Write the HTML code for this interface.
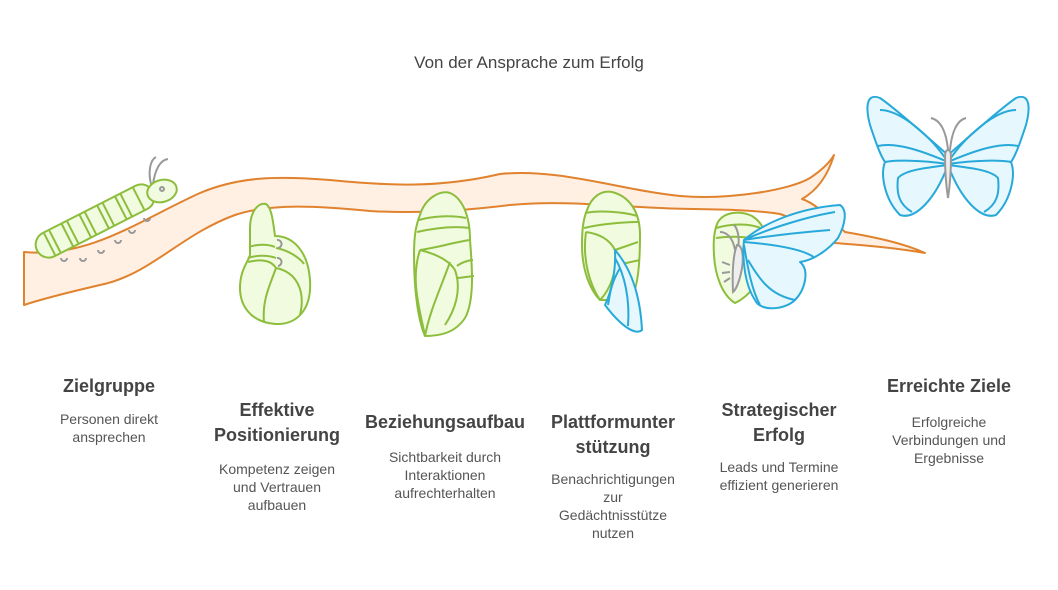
<!DOCTYPE html>
<html><head><meta charset="utf-8"><style>
html,body{margin:0;padding:0;background:#fff;}
svg{display:block;}
.t{font-family:"Liberation Sans",sans-serif;font-weight:bold;font-size:18px;fill:#444;text-anchor:middle;}
.b{font-family:"Liberation Sans",sans-serif;font-size:14px;fill:#555;text-anchor:middle;}
.g{fill:#f1fbdf;stroke:#8dbd3c;stroke-width:2;stroke-linejoin:round;}
.gl{fill:none;stroke:#8dbd3c;stroke-width:2;}
.bl{fill:#e6f7fd;stroke:#27a9d9;stroke-width:2;stroke-linejoin:round;}
.bll{fill:none;stroke:#27a9d9;stroke-width:2;}
.gr{fill:none;stroke:#999;stroke-width:2;}
</style></head><body>
<svg width="1058" height="590" viewBox="0 0 1058 590">
<text x="529" y="68" style="font-family:'Liberation Sans',sans-serif;font-size:17px;fill:#444;text-anchor:middle;">Von der Ansprache zum Erfolg</text>

<!-- branch -->
<path d="M24,252 C90,258 140,220 200,193 C240,176 280,176 330,180 C390,186 440,188 500,174 C560,168 620,190 680,196 C730,200 790,190 810,178 C822,170 830,162 834,155 C828,175 818,190 802,199 C815,203 830,218 845,232 C880,238 905,244 925,253 C890,247 860,245 835,243 C815,238 800,220 780,214 C740,208 700,210 660,208 C610,206 560,200 510,205 C470,210 420,214 370,211 C320,206 270,203 235,215 C180,235 150,275 100,285 C70,292 45,298 24,305 Z" fill="#fff0e3" stroke="#e0822e" stroke-width="2" stroke-linejoin="round"/>

<!-- caterpillar -->
<g>
<path class="gr" d="M151,184 C148,172 150,160 156,157 M153,184 C155,170 160,160 168,159"/>
<path class="gr" d="M61,258 a3,3 0 1 0 6,0 M80,258 a3,3 0 1 0 6,0 M98,250 a3,3 0 1 0 6,0 M115,240 a3,3 0 1 0 6,0 M129,230 a3,3 0 1 0 6,0 M144,218 a3,3 0 1 0 6,0"/>
<g transform="rotate(-27 95 221)">
<rect x="30" y="208" width="130" height="26" rx="13" class="g"/>
<path class="gl" d="M44,209 V233 M50,209 V233 M64,208 V234 M70,208 V234 M84,208 V234 M90,208 V234 M104,208 V234 M110,208 V234 M124,208 V234 M130,208 V234 M144,208 V234"/>
</g>
<ellipse cx="162" cy="191" rx="15" ry="11" transform="rotate(-15 162 191)" class="g"/>
<circle cx="162" cy="189" r="2" class="gr"/>
</g>

<!-- pupa 1 -->
<g>
<path class="g" d="M250,228 C250,212 258,202 266,204 C272,208 273,222 275,236 C292,236 308,250 310,280 C312,312 295,325 275,324 C250,322 240,305 240,288 C240,270 248,262 250,255 Z"/>
<path class="gl" d="M249,247 C257,244 268,244 275,247 M248,258 C257,255 268,255 276,258 M248,262 C265,258 272,262 276,268 M276,268 C270,285 262,300 264,322 M276,268 C296,272 306,290 300,315 M276,248 C288,250 300,258 304,264"/>
<path class="gr" d="M277,240 a3,3 0 1 1 1,8 M277,258 a3,3 0 1 1 1,8"/>
</g>

<!-- pupa 2 -->
<g>
<path class="g" d="M420,215 C425,198 440,190 450,193 C462,198 470,215 470,240 C472,265 475,300 465,318 C455,333 440,336 425,336 C418,320 414,290 414,255 C414,235 416,225 420,215 Z"/>
<path class="gl" d="M419,220 C432,216 452,215 466,218 M417,232 C435,228 455,226 470,228 M420,250 C440,247 455,242 470,240 M457,266 C462,262 470,260 473,260 M458,278 L474,276 M420,250 C440,255 450,262 455,270 C462,290 455,310 445,325 M420,250 C410,280 420,310 425,336 M450,262 C440,290 430,310 425,336"/>
</g>

<!-- pupa 3 -->
<g>
<path class="g" d="M587,210 C592,196 602,190 612,192 C628,196 640,210 640,235 C640,262 638,290 630,300 L600,300 C590,290 582,270 582,245 C582,230 583,220 587,210 Z"/>
<path class="gl" d="M585,213 C600,210 625,212 637,216 M584,228 C600,224 625,222 639,222 M586,232 C600,234 610,240 615,250 M615,250 L638,242 M617,265 L640,260 M615,250 C618,270 610,290 600,300 M586,232 C582,260 590,285 600,300"/>
<path class="bl" d="M615,250 C628,265 640,290 642,330 C635,336 620,325 605,305 C612,290 616,270 615,250 Z"/>
<path class="bll" d="M615,258 C625,275 630,300 628,326 M620,268 C610,285 610,295 608,305"/>
</g>

<!-- pupa 4 + emerging butterfly -->
<g>
<path class="g" d="M718,222 C724,212 740,210 752,216 C765,224 770,240 765,260 C760,280 752,295 735,303 C722,295 715,275 714,255 C713,240 714,230 718,222 Z"/>
<path class="gl" d="M716,228 C730,224 750,222 765,230 M716,238 C730,236 752,236 768,242"/>
<path class="gr" d="M735,250 C733,238 727,232 720,232 M738,248 C740,236 737,228 734,225 M730,265 L722,262 M730,272 L722,273 M730,278 L724,282"/>
<path d="M733,292 C732,270 733,255 737,245 C742,245 744,255 742,268 C740,280 736,290 733,292 Z" fill="#eee" stroke="#999" stroke-width="2"/>
<path class="bl" d="M744,240 C765,222 800,208 840,205 C848,210 845,225 838,238 C830,248 815,260 800,262 C810,270 805,290 795,300 C785,310 760,312 755,300 C745,285 742,260 744,240 Z"/>
<path class="bll" d="M744,240 C770,228 810,216 835,212 M744,240 C775,235 805,232 830,230 M744,242 C780,245 805,250 815,258 M748,260 C760,280 770,295 795,300 M744,245 C748,270 752,290 760,305"/>
</g>

<!-- butterfly -->
<g>
<path class="gr" d="M948,150 C946,130 940,120 931,118 M950,150 C952,130 958,120 966,118"/>
<path class="bl" d="M948,155 C925,135 895,108 880,98 C865,92 866,110 870,125 C875,140 880,155 885,162 C880,175 885,200 900,215 C915,220 935,200 948,165 Z"/>
<path class="bl" d="M948,155 C971,135 1001,108 1016,98 C1031,92 1030,110 1026,125 C1021,140 1016,155 1011,162 C1016,175 1011,200 996,215 C981,220 961,200 948,165 Z"/>
<path class="bll" d="M948,162 C930,135 900,110 880,110 M948,162 C920,150 895,142 878,146 M948,164 C920,160 895,160 885,162 M948,165 C925,168 905,170 898,178 C896,195 900,205 912,212 M948,162 C966,135 996,110 1016,110 M948,162 C976,150 1001,142 1018,146 M948,164 C976,160 1001,160 1011,162 M948,165 C971,168 991,170 998,178 C1000,195 996,205 984,212"/>
<path d="M948,198 C946,185 945,170 945,156 C945,148 951,148 951,156 C951,170 950,185 948,198 Z" fill="#eee" stroke="#999" stroke-width="2"/>
</g>

<!-- labels -->
<text class="t" x="109" y="392">Zielgruppe</text>
<text class="b" x="109" y="424">Personen direkt</text>
<text class="b" x="109" y="442">ansprechen</text>

<text class="t" x="277" y="416">Effektive</text>
<text class="t" x="277" y="441">Positionierung</text>
<text class="b" x="277" y="474">Kompetenz zeigen</text>
<text class="b" x="277" y="492">und Vertrauen</text>
<text class="b" x="277" y="510">aufbauen</text>

<text class="t" x="445" y="428">Beziehungsaufbau</text>
<text class="b" x="445" y="462">Sichtbarkeit durch</text>
<text class="b" x="445" y="480">Interaktionen</text>
<text class="b" x="445" y="498">aufrechterhalten</text>

<text class="t" x="613" y="428">Plattformunter</text>
<text class="t" x="613" y="453">stützung</text>
<text class="b" x="613" y="484">Benachrichtigungen</text>
<text class="b" x="613" y="502">zur</text>
<text class="b" x="613" y="520">Gedächtnisstütze</text>
<text class="b" x="613" y="538">nutzen</text>

<text class="t" x="779" y="416">Strategischer</text>
<text class="t" x="779" y="441">Erfolg</text>
<text class="b" x="779" y="472">Leads und Termine</text>
<text class="b" x="779" y="490">effizient generieren</text>

<text class="t" x="949" y="392">Erreichte Ziele</text>
<text class="b" x="949" y="427">Erfolgreiche</text>
<text class="b" x="949" y="445">Verbindungen und</text>
<text class="b" x="949" y="463">Ergebnisse</text>
</svg>
</body></html>
